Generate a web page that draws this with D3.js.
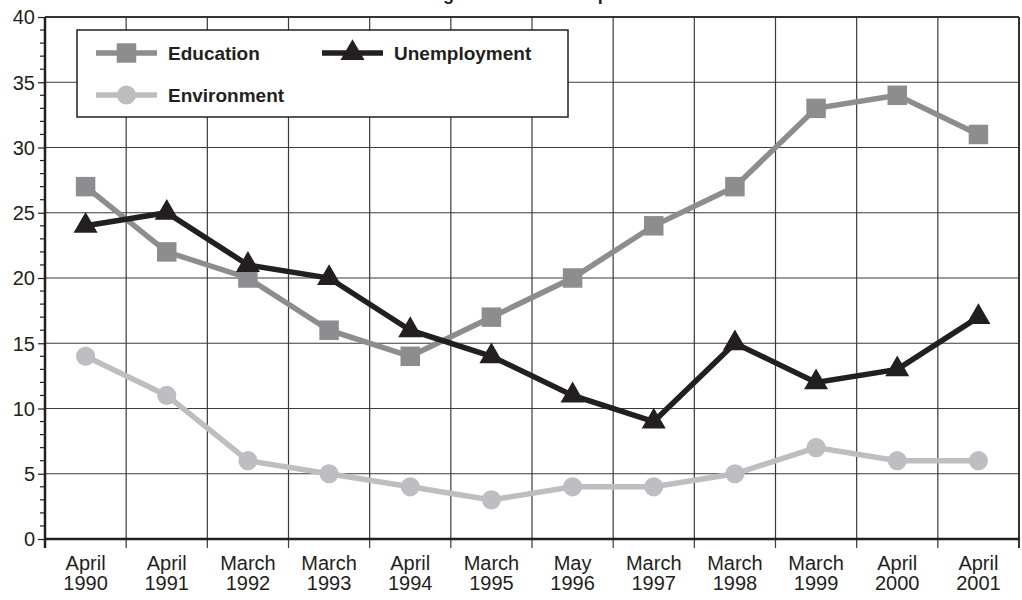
<!DOCTYPE html>
<html><head><meta charset="utf-8">
<script src="https://cdn.jsdelivr.net/npm/d3@7"></script>
<style>body{margin:0;background:#fff}svg{display:block}text{font-family:"Liberation Sans",Arial,sans-serif}</style>
</head><body><svg id="c" width="1022" height="600"></svg>
<script>
const categories = ["April 1990","April 1991","March 1992","March 1993","April 1994","March 1995","May 1996","March 1997","March 1998","March 1999","April 2000","April 2001"];
const education = [27,22,20,16,14,17,20,24,27,33,34,31];
const unemployment = [24,25,21,20,16,14,11,9,15,12,13,17];
const environment = [14,11,6,5,4,3,4,4,5,7,6,6];
const yTicks = [0,5,10,15,20,25,30,35,40];
const title = "Ratings of Issues as Top Problems";

const svg = d3.select("#c");
const L=45, R=1019, T=17, B=539;
const x = d3.scaleBand().domain(categories).range([L,R]).padding(0);
const y = d3.scaleLinear().domain([0,40]).range([B,T]);

// title (cut off at top as in reference)
svg.append("text").attr("x",398).attr("y",-0.5).attr("font-size",18).attr("font-weight","bold").attr("fill","#231f20").text(title);

// grid
const g = svg.append("g");
g.selectAll(".hg").data(yTicks.filter(d=>d>0&&d<40)).join("line")
  .attr("x1",L).attr("x2",R).attr("y1",d=>y(d)).attr("y2",d=>y(d)).attr("stroke","#3a3a3a").attr("stroke-width",1.2);
const bounds = categories.slice(1).map(c=>x(c));
g.selectAll(".vg").data(bounds).join("line")
  .attr("x1",d=>d).attr("x2",d=>d).attr("y1",T).attr("y2",B+9).attr("stroke","#3a3a3a").attr("stroke-width",1.2);
// frame top/right
svg.append("line").attr("x1",L).attr("x2",R).attr("y1",T).attr("y2",T).attr("stroke","#333").attr("stroke-width",2);
svg.append("line").attr("x1",R).attr("x2",R).attr("y1",T).attr("y2",B+9).attr("stroke","#333").attr("stroke-width",2);

// y axis
const yAxis = svg.append("g").attr("transform",`translate(${L},0)`)
  .call(d3.axisLeft(y).tickValues(yTicks).tickSize(7).tickPadding(3).tickFormat(d3.format("d")));
yAxis.select(".domain").remove();
yAxis.selectAll(".tick line").attr("stroke","#231f20").attr("stroke-width",1.2);
yAxis.selectAll(".tick text").attr("font-size",20).attr("fill","#231f20").attr("dy","0.34em");
const minor = d3.range(0,41).filter(d=>d%5!==0);
svg.append("g").selectAll("line").data(minor).join("line")
  .attr("x1",L-5).attr("x2",L).attr("y1",d=>y(d)).attr("y2",d=>y(d)).attr("stroke","#231f20").attr("stroke-width",1.2);
svg.append("line").attr("x1",L).attr("x2",L).attr("y1",T).attr("y2",B+9).attr("stroke","#231f20").attr("stroke-width",2.5);

// x axis
svg.append("line").attr("x1",L).attr("x2",R).attr("y1",B).attr("y2",B).attr("stroke","#231f20").attr("stroke-width",2.5);
const xl = svg.append("g");
categories.forEach(c=>{
  const parts=c.split(" ");
  const t=xl.append("text").attr("x",x(c)+x.bandwidth()/2).attr("text-anchor","middle").attr("font-size",20).attr("fill","#231f20");
  t.append("tspan").attr("x",x(c)+x.bandwidth()/2).attr("y",570).text(parts[0]);
  t.append("tspan").attr("x",x(c)+x.bandwidth()/2).attr("y",590).text(parts[1]);
});

// series
const cx = c=>x(c)+x.bandwidth()/2;
const series = [
  {name:"Environment", values:environment, color:"#bdbec1", sym:d3.symbolCircle, size:290},
  {name:"Education", values:education, color:"#8d8d8f", sym:d3.symbolSquare, size:380},
  {name:"Unemployment", values:unemployment, color:"#231f20", sym:d3.symbolTriangle, size:250}
];
const line = d3.line().x((d,i)=>cx(categories[i])).y(d=>y(d));
series.forEach(s=>{
  svg.append("path").datum(s.values).attr("d",line).attr("fill","none").attr("stroke",s.color).attr("stroke-width",5.5).attr("stroke-linejoin","miter");
  svg.append("g").selectAll("path").data(s.values).join("path")
    .attr("transform",(d,i)=>`translate(${cx(categories[i])},${y(d)})`)
    .attr("d",d3.symbol().type(s.sym).size(s.size)).attr("fill",s.color);
});

// legend
const lg = svg.append("g");
lg.append("rect").attr("x",77).attr("y",30).attr("width",491).attr("height",87).attr("fill","#fff").attr("stroke","#231f20").attr("stroke-width",1.5);
const leg = [
  {s:series[1], x:96, y:53},
  {s:series[2], x:322, y:53},
  {s:series[0], x:96, y:95}
];
leg.forEach(e=>{
  lg.append("line").attr("x1",e.x).attr("x2",e.x+61).attr("y1",e.y).attr("y2",e.y).attr("stroke",e.s.color).attr("stroke-width",5.5);
  lg.append("path").attr("transform",`translate(${e.x+30.5},${e.y})`).attr("d",d3.symbol().type(e.s.sym).size(e.s.size)).attr("fill",e.s.color);
  lg.append("text").attr("x",e.x+72).attr("y",e.y+6.5).attr("font-size",19).attr("font-weight","bold").attr("fill","#231f20").text(e.s.name);
});
</script></body></html>
